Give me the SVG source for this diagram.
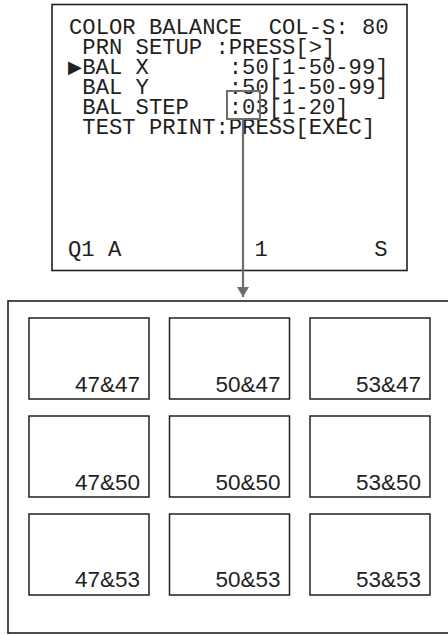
<svg xmlns="http://www.w3.org/2000/svg" width="448" height="635" viewBox="0 0 448 635">
<style>
.frame{fill:#fff;stroke:#231f20;stroke-width:1.6}
.lcd{font-family:"Liberation Mono","DejaVu Sans Mono",monospace;font-size:22.2px;fill:#231f20;white-space:pre}
.sym{font-family:"DejaVu Sans","Liberation Sans",sans-serif;font-size:18px;fill:#231f20}
.tile{fill:#fff;stroke:#231f20;stroke-width:1.5}
.lbl{font-family:"Liberation Sans",Arial,sans-serif;font-size:22.5px;fill:#231f20;text-anchor:end}
.hl{fill:none;stroke:#6d6d6d;stroke-width:2}
.conn{stroke:#6d6d6d;stroke-width:2.2;fill:none}
</style>
<defs>
<marker id="ah" markerWidth="12" markerHeight="12" refX="10" refY="6" orient="auto" markerUnits="userSpaceOnUse">
<path d="M0,0 L10,6 L0,12 Z" fill="#6d6d6d"/>
</marker>
</defs>
<rect width="448" height="635" fill="#fff"/>
<g id="screen">
<rect class="frame" x="52" y="4.5" width="355" height="266"/>
<text class="lcd" x="69" y="33.5">COLOR BALANCE  COL-S: 80</text>
<text class="lcd" x="69" y="53.5"> PRN SETUP :PRESS[&gt;]</text>
<text class="sym" x="68" y="73">▶</text>
<text class="lcd" x="82.3" y="73.5">BAL X      :50[1-50-99]</text>
<text class="lcd" x="69" y="93.5"> BAL Y      :50[1-50-99]</text>
<text class="lcd" x="69" y="113.5"> BAL STEP   :03[1-20]</text>
<text class="lcd" x="69" y="133.5"> TEST PRINT:PRESS[EXEC]</text>
<text class="lcd" x="68" y="256">Q1 A          1        S</text>
<rect class="hl" x="227" y="91" width="33" height="28"/>
</g>
<g id="connectors">
<line class="conn" x1="243" y1="119" x2="243" y2="297" marker-end="url(#ah)"/>
</g>
<g id="sheet">
<rect class="frame" x="8" y="301" width="450" height="332"/>
</g>
<g id="tile-47-47"><rect class="tile" x="29" y="318" width="120" height="81"/><text class="lbl" x="140" y="391.5">47&amp;47</text></g>
<g id="tile-50-47"><rect class="tile" x="169.5" y="318" width="120" height="81"/><text class="lbl" x="280.5" y="391.5">50&amp;47</text></g>
<g id="tile-53-47"><rect class="tile" x="310" y="318" width="120" height="81"/><text class="lbl" x="421" y="391.5">53&amp;47</text></g>
<g id="tile-47-50"><rect class="tile" x="29" y="416" width="120" height="81"/><text class="lbl" x="140" y="489.5">47&amp;50</text></g>
<g id="tile-50-50"><rect class="tile" x="169.5" y="416" width="120" height="81"/><text class="lbl" x="280.5" y="489.5">50&amp;50</text></g>
<g id="tile-53-50"><rect class="tile" x="310" y="416" width="120" height="81"/><text class="lbl" x="421" y="489.5">53&amp;50</text></g>
<g id="tile-47-53"><rect class="tile" x="29" y="514" width="120" height="81"/><text class="lbl" x="140" y="587">47&amp;53</text></g>
<g id="tile-50-53"><rect class="tile" x="169.5" y="514" width="120" height="81"/><text class="lbl" x="280.5" y="587">50&amp;53</text></g>
<g id="tile-53-53"><rect class="tile" x="310" y="514" width="120" height="81"/><text class="lbl" x="421" y="587">53&amp;53</text></g>
</svg>
